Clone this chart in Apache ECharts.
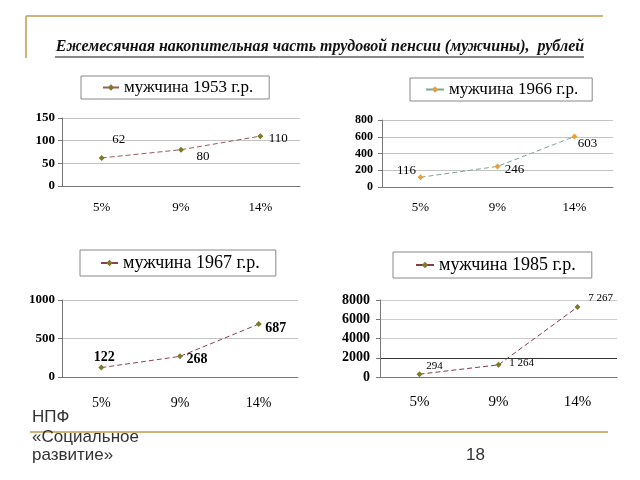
<!DOCTYPE html>
<html><head><meta charset="utf-8">
<script src="https://cdn.jsdelivr.net/npm/echarts@6/dist/echarts.min.js"></script>
<style>html,body{margin:0;padding:0;background:#fff}#c{width:640px;height:480px}</style>
</head><body><div id="c"></div>
<script>
const categories = ['5%', '9%', '14%'];
const names = ['мужчина 1953 г.р.', 'мужчина 1966 г.р.', 'мужчина 1967 г.р.', 'мужчина 1985 г.р.'];
const values1953 = [62, 80, 110];
const values1966 = [116, 246, 603];
const values1967 = [122, 268, 687];
const values1985 = [294, 1264, 7267];
const yMax = [150, 800, 1000, 8000];
const yStep = [50, 200, 500, 2000];
const titleText = 'Ежемесячная накопительная часть трудовой пенсии (мужчины),  рублей';

const serif = '"Liberation Serif","DejaVu Serif",serif';
const sans = '"Liberation Sans",Arial,sans-serif';
const gold = '#CDB57A';

const grids = [
  {left: 62, top: 118, width: 238, height: 68},
  {left: 382, top: 120, width: 231, height: 67},
  {left: 62, top: 300, width: 236, height: 77},
  {left: 380, top: 300, width: 237, height: 77}
];
const catFont = [13, 13, 14, 15];
const catMargin = [15, 14, 19, 18];
const yFont = [13, 12, 13, 14];
const yMargin = [7, 9, 7, 10];

const xAxes = grids.map((g, i) => ({
  type: 'category', gridIndex: i, data: categories, boundaryGap: true,
  axisLine: {lineStyle: {color: '#777', width: 1}},
  axisTick: {length: 4, lineStyle: {color: '#777'}},
  axisLabel: {color: '#000', fontFamily: serif, fontSize: catFont[i], margin: catMargin[i]}
}));
const yAxes = grids.map((g, i) => ({
  type: 'value', gridIndex: i, min: 0, max: yMax[i], interval: yStep[i],
  axisLine: {show: true, lineStyle: {color: '#777'}},
  axisTick: {show: true, length: 4, lineStyle: {color: '#777'}},
  axisLabel: {color: '#000', fontFamily: serif, fontSize: yFont[i], margin: yMargin[i], fontWeight: 'bold',
    formatter: v => String(v)},
  splitLine: {lineStyle: {color: i === 3 ? ['#ccc', '#333', '#ccc', '#ccc', '#ccc'] : '#c4c4c4'}}
}));

const fmt = v => String(v).replace(/\B(?=(\d{3})+(?!\d))/g, ' ');

function mkSeries(i, vals, lineColor, markColor, offsets, fontSize, bold) {
  return {
    name: names[i], type: 'line', xAxisIndex: i, yAxisIndex: i,
    data: vals.map((v, k) => ({
      value: v,
      label: {show: true, position: 'inside', offset: offsets[k], formatter: p => fmt(p.value),
        color: '#000', fontFamily: serif, fontSize: fontSize, fontWeight: bold ? 'bold' : 'normal'}
    })),
    symbol: 'diamond', symbolSize: 6, showSymbol: true,
    lineStyle: {color: lineColor, width: 1, type: [5, 3]},
    itemStyle: {color: markColor},
    animation: false
  };
}

const series = [
  mkSeries(0, values1953, '#9A5A5E', '#7B7A2A', [[17, -18], [22, 7], [18, 2]], 13, false),
  mkSeries(1, values1966, '#7FA492', '#E3A33A', [[-14, -7], [17, 3], [13, 7]], 13, false),
  mkSeries(2, values1967, '#8E3F52', '#7B7A2A', [[3, -10], [17, 3], [17, 4]], 14, true),
  mkSeries(3, values1985, '#853A48', '#7B7A2A', [[15, -8], [23, -2], [23, -9]], 11, false)
];

const legendCfg = [
  {left: 81, top: 76, padding: [3, 16, 3, 21], itemWidth: 16, fs: 17},
  {left: 410, top: 78, padding: [3, 14, 3, 15], itemWidth: 18, fs: 17},
  {left: 80, top: 250, padding: [4, 16, 4, 20], itemWidth: 17, fs: 18},
  {left: 393, top: 252, padding: [4, 16, 4, 22], itemWidth: 18, fs: 18}
];
const legends = legendCfg.map((c, i) => ({
  data: [names[i]], left: c.left, top: c.top, padding: c.padding,
  itemWidth: c.itemWidth, itemHeight: 8,
  borderColor: '#888', borderWidth: 1, orient: 'horizontal', selectedMode: false,
  lineStyle: {type: 'solid'},
  textStyle: {fontFamily: serif, fontSize: c.fs, color: '#000'}
}));

const chart = echarts.init(document.getElementById('c'), null, {renderer: 'canvas'});
chart.setOption({
  animation: false,
  backgroundColor: '#fff',
  grid: grids,
  xAxis: xAxes,
  yAxis: yAxes,
  legend: legends,
  series: series,
  graphic: [
    {type: 'line', shape: {x1: 26, y1: 16, x2: 603, y2: 16}, style: {stroke: gold, lineWidth: 2}},
    {type: 'line', shape: {x1: 26, y1: 16, x2: 26, y2: 58}, style: {stroke: gold, lineWidth: 2}},
    {type: 'line', shape: {x1: 30, y1: 432, x2: 608, y2: 432}, style: {stroke: gold, lineWidth: 2}},
    {type: 'text', left: 'center', top: 39, style: {text: titleText, font: 'italic bold 16px ' + serif, fill: '#111'}},
    {type: 'line', shape: {x1: 55, y1: 57, x2: 584, y2: 57}, style: {stroke: '#111', lineWidth: 1}},
    {type: 'text', left: 32, top: 409, style: {text: 'НПФ', font: '17px ' + sans, fill: '#333'}},
    {type: 'text', left: 32, top: 429, style: {text: '«Социальное', font: '17px ' + sans, fill: '#333'}},
    {type: 'text', left: 32, top: 447, style: {text: 'развитие»', font: '17px ' + sans, fill: '#333'}},
    {type: 'text', left: 466, top: 447, style: {text: '18', font: '17px ' + sans, fill: '#333'}}
  ]
});
</script></body></html>
